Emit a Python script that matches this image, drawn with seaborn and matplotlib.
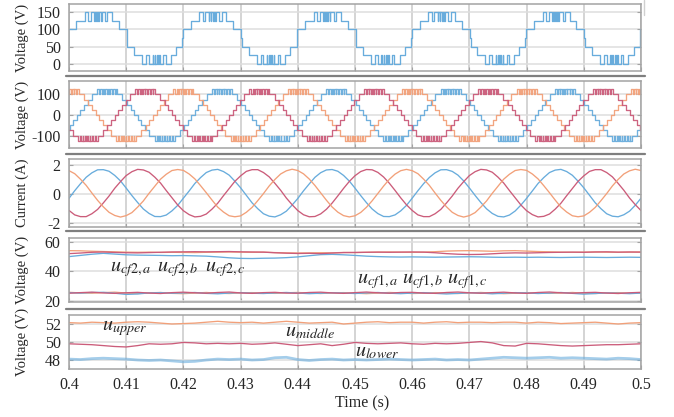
import numpy as np
import pandas as pd
import matplotlib
matplotlib.use("Agg")
import matplotlib.pyplot as plt
from matplotlib.lines import Line2D
import seaborn as sns

# ---------------- data ----------------
X_TICKS = [0.40, 0.41, 0.42, 0.43, 0.44, 0.45, 0.46, 0.47, 0.48, 0.49, 0.50]
X_TICK_LABELS = ["0.4", "0.41", "0.42", "0.43", "0.44", "0.45", "0.46", "0.47", "0.48", "0.49", "0.5"]

# panel 1: stepped phase voltage, one-cycle step pattern (ms from plateau centre)
P1_CENTERS = [0.3851, 0.4051, 0.4251, 0.4451, 0.4651, 0.4851]
P1_OFFS_MS = [-2.3, -1.7, -1.25, -0.65, -0.55, -0.3, -0.2, 0.05, 0.2, 0.45, 0.6, 1.2, 1.6,
              2.4, 3.6, 5.0, 5.1, 6.3, 7.7, 8.4, 8.9, 9.5, 9.6, 9.9, 10.0, 10.3, 10.45,
              10.7, 10.8, 11.4, 11.8, 12.7, 13.6, 14.7, 14.8, 16.2]
P1_LEVELS = [150, 125, 150, 125, 150, 125, 150, 125, 150, 125, 150, 125, 150,
             125, 100, 75, 50, 25, 0, 25, 0, 25, 0, 25, 0, 25, 0,
             25, 0, 25, 0, 25, 50, 75, 100, 125]

# panel 2: stepped line voltages, one-cycle step pattern (ms from positive plateau centre)
LV_CENTERS_BLUE = [0.3867, 0.4067, 0.4267, 0.4467, 0.4667, 0.4867]
LV_CENTERS_RED = [0.3933, 0.4133, 0.4333, 0.4533, 0.4733, 0.4933]
LV_CENTERS_ORANGE = [0.3800, 0.4000, 0.4200, 0.4400, 0.4600, 0.4800, 0.5000]
LV_OFFS_MS = [-1.75, -1.4, -1.2, -0.9, -0.8, -0.5, -0.4, -0.1, 0.05, 0.35, 0.45, 0.8, 0.95, 1.3, 1.45,
              1.75, 2.65, 3.40, 4.07, 4.69, 5.31, 5.93, 6.60, 7.35,
              8.25, 8.6, 8.8, 9.1, 9.2, 9.5, 9.6, 9.9, 10.05, 10.35, 10.45, 10.8, 10.95, 11.3, 11.45,
              11.75, 12.65, 13.40, 14.07, 14.69, 15.31, 15.93, 16.60, 17.35]
LV_LEVELS = [125, 100, 125, 100, 125, 100, 125, 100, 125, 100, 125, 100, 125, 100, 125,
             100, 75, 50, 25, 0, -25, -50, -75, -100,
             -125, -100, -125, -100, -125, -100, -125, -100, -125, -100, -125, -100, -125, -100, -125,
             -100, -75, -50, -25, 0, 25, 50, 75, 100]

# panel 3: phase currents sampled every 1 ms from 0.400 s to 0.500 s
I_TIME = [round(0.400 + 0.001 * k, 3) for k in range(101)]
I_BLUE = [-0.31, 0.22, 0.70, 1.15, 1.46, 1.67, 1.68, 1.57, 1.28, 0.90, 0.40, -0.12, -0.60, -1.05, -1.36, -1.57, -1.58, -1.47, -1.18, -0.80,
          -0.30, 0.20, 0.72, 1.13, 1.48, 1.65, 1.70, 1.55, 1.30, 0.88, 0.42, -0.10, -0.62, -1.03, -1.38, -1.55, -1.60, -1.45, -1.20, -0.78,
          -0.32, 0.21, 0.69, 1.15, 1.47, 1.66, 1.69, 1.57, 1.28, 0.89, 0.40, -0.12, -0.61, -1.05, -1.37, -1.57, -1.58, -1.46, -1.18, -0.80,
          -0.30, 0.22, 0.71, 1.14, 1.46, 1.67, 1.68, 1.56, 1.30, 0.90, 0.41, -0.11, -0.60, -1.04, -1.36, -1.56, -1.60, -1.47, -1.19, -0.78,
          -0.31, 0.20, 0.72, 1.13, 1.48, 1.65, 1.70, 1.55, 1.29, 0.88, 0.42, -0.10, -0.62, -1.03, -1.38, -1.55, -1.59, -1.45, -1.20, -0.79,
          -0.30]
I_RED = [-1.15, -1.46, -1.58, -1.58, -1.38, -1.08, -0.63, -0.15, 0.39, 0.85, 1.27, 1.54, 1.70, 1.66, 1.50, 1.16, 0.75, 0.23, -0.27, -0.77,
         -1.17, -1.44, -1.60, -1.56, -1.40, -1.06, -0.65, -0.13, 0.37, 0.87, 1.25, 1.56, 1.68, 1.68, 1.48, 1.18, 0.73, 0.25, -0.29, -0.75,
         -1.16, -1.45, -1.59, -1.57, -1.39, -1.07, -0.64, -0.14, 0.38, 0.86, 1.26, 1.55, 1.69, 1.67, 1.49, 1.17, 0.74, 0.24, -0.28, -0.76,
         -1.15, -1.46, -1.58, -1.58, -1.38, -1.08, -0.63, -0.15, 0.39, 0.85, 1.27, 1.54, 1.70, 1.66, 1.50, 1.16, 0.75, 0.23, -0.27, -0.77,
         -1.17, -1.44, -1.60, -1.56, -1.40, -1.06, -0.65, -0.13, 0.37, 0.87, 1.25, 1.56, 1.68, 1.68, 1.48, 1.18, 0.73, 0.25, -0.29, -0.75,
         -1.16]
I_ORANGE = [1.61, 1.40, 1.02, 0.59, 0.06, -0.45, -0.90, -1.28, -1.50, -1.61, -1.51, -1.30, -0.92, -0.49, 0.04, 0.53, 1.02, 1.36, 1.62, 1.69,
            1.63, 1.38, 1.04, 0.57, 0.08, -0.43, -0.92, -1.26, -1.52, -1.59, -1.53, -1.28, -0.94, -0.47, 0.02, 0.55, 1.00, 1.38, 1.60, 1.71,
            1.62, 1.39, 1.03, 0.58, 0.07, -0.44, -0.91, -1.27, -1.51, -1.60, -1.52, -1.29, -0.93, -0.48, 0.03, 0.54, 1.01, 1.37, 1.61, 1.70,
            1.61, 1.40, 1.02, 0.59, 0.06, -0.45, -0.90, -1.28, -1.50, -1.61, -1.51, -1.30, -0.92, -0.49, 0.04, 0.53, 1.02, 1.36, 1.62, 1.69,
            1.63, 1.38, 1.04, 0.57, 0.08, -0.43, -0.92, -1.26, -1.52, -1.59, -1.53, -1.28, -0.94, -0.47, 0.02, 0.55, 1.00, 1.38, 1.60, 1.71,
            1.62]

# panels 4 and 5: capacitor voltages sampled every 2 ms
U_TIME = [round(0.400 + 0.002 * k, 3) for k in range(51)]
UCF2_ORANGE = [54.0, 53.9, 53.6, 53.4, 53.2, 53.0, 52.9, 53.0, 52.8, 52.9, 52.8, 52.7, 52.9, 53.0, 53.1, 53.0, 52.9,
               53.0, 52.7, 52.5, 52.4, 52.5, 52.6, 52.5, 52.8, 52.7, 52.9, 53.0, 53.1, 53.0, 52.9, 53.0, 53.3, 53.7,
               53.9, 54.0, 53.8, 53.6, 53.9, 54.0, 53.7, 53.4, 53.2, 53.0, 52.9, 53.0, 53.1, 53.0, 52.9, 53.0, 53.1]
UCF2_RED = [52.0, 52.4, 52.9, 53.1, 52.8, 52.6, 52.5, 52.7, 52.9, 53.1, 53.2, 53.3, 53.2, 53.3, 53.4, 53.2, 53.1,
            53.0, 52.6, 52.3, 52.1, 52.2, 52.0, 52.4, 52.7, 52.8, 52.9, 53.0, 52.9, 53.0, 53.1, 53.0, 52.6, 52.0,
            51.6, 51.4, 51.5, 51.9, 52.3, 52.5, 52.4, 52.6, 52.8, 52.9, 53.0, 52.9, 53.1, 53.2, 53.0, 53.1, 53.0]
UCF2_BLUE = [50.0, 50.8, 51.6, 52.2, 51.7, 51.2, 51.0, 50.9, 50.8, 50.6, 50.7, 50.5, 50.3, 49.8, 49.2, 48.8, 48.7,
             48.9, 49.0, 49.3, 49.8, 50.6, 51.3, 51.5, 51.2, 50.8, 50.3, 50.0, 49.8, 49.7, 49.8, 49.7, 49.6, 49.7,
             49.8, 49.9, 49.8, 49.6, 49.5, 49.6, 49.5, 49.6, 49.5, 49.4, 49.5, 49.6, 49.5, 49.4, 49.5, 49.6, 49.5]
UCF1_ORANGE = [26.0, 25.6, 25.4, 25.8, 26.1, 25.5, 25.2, 25.6, 25.9, 25.3, 25.1, 25.5, 25.9, 25.4, 25.2, 25.6, 25.8,
               25.4, 25.3, 25.7, 25.9, 25.5, 25.2, 25.6, 25.8, 25.4, 25.1, 25.5, 25.9, 25.6, 25.2, 25.4, 25.8, 25.5,
               25.2, 25.6, 25.9, 25.5, 25.1, 25.4, 25.8, 25.6, 25.3, 25.5, 25.9, 25.4, 25.2, 25.6, 25.8, 25.4, 25.5]
UCF1_RED = [25.4, 25.8, 26.1, 25.6, 25.3, 25.7, 26.0, 25.5, 25.2, 25.8, 26.1, 25.7, 25.4, 25.9, 26.2, 25.6, 25.3,
            25.8, 26.0, 25.5, 25.4, 25.9, 26.1, 25.6, 25.3, 25.8, 26.2, 25.7, 25.4, 25.9, 26.0, 25.5, 25.3, 25.9,
            26.2, 25.7, 25.4, 25.8, 26.1, 25.6, 25.3, 25.9, 26.2, 25.7, 25.4, 25.8, 26.0, 25.5, 25.2, 25.7, 26.0]
UCF1_BLUE = [25.8, 25.5, 25.9, 26.0, 25.4, 24.6, 24.9, 25.6, 25.8, 25.4, 25.6, 25.9, 25.3, 25.0, 25.5, 25.8, 25.4,
             25.2, 25.6, 25.9, 25.5, 25.1, 25.4, 25.7, 25.5, 25.2, 25.6, 25.9, 25.4, 25.1, 25.5, 25.8, 25.3, 24.9,
             25.3, 25.7, 25.5, 25.0, 25.4, 25.8, 25.6, 25.2, 25.5, 25.9, 25.3, 24.8, 25.2, 25.6, 25.4, 25.1, 25.5]
U_UPPER = [52.15, 52.1, 52.2, 52.15, 52.1, 52.2, 52.25, 52.2, 52.1, 52.0, 52.05, 52.1, 52.2, 52.3, 52.2, 52.15, 52.2,
           52.1, 52.2, 52.3, 52.2, 52.1, 52.15, 52.2, 52.0, 52.1, 52.2, 52.25, 52.15, 52.2, 52.2, 52.1, 52.2, 52.25,
           52.15, 52.2, 52.2, 52.15, 52.2, 52.2, 52.1, 52.2, 52.15, 52.05, 52.1, 52.15, 52.2, 52.1, 52.0, 52.1, 52.15]
U_MIDDLE = [49.8, 49.75, 49.7, 49.6, 49.5, 49.45, 49.6, 49.8, 49.75, 49.8, 49.95, 49.9, 49.8, 49.85, 49.8, 49.85, 49.75,
            49.8, 49.9, 49.75, 49.6, 49.7, 49.8, 49.6, 49.75, 49.95, 49.85, 49.8, 49.85, 49.9, 49.8, 49.75, 49.85, 49.8,
            49.85, 49.95, 50.05, 49.9, 49.6, 49.55, 49.85, 49.8, 49.7, 49.6, 49.55, 49.6, 49.65, 49.7, 49.7, 49.75, 49.8]
U_LOWER = [48.1, 48.05, 48.15, 48.2, 48.15, 48.1, 48.0, 47.95, 48.0, 47.9, 47.8, 47.85, 48.0, 48.1, 48.05, 48.1, 48.0,
           48.05, 48.25, 48.3, 48.05, 47.95, 48.05, 48.1, 48.0, 48.05, 48.0, 48.05, 48.1, 48.05, 48.0, 48.05, 48.1, 48.0,
           48.05, 48.0, 48.1, 48.2, 48.3, 48.25, 48.2, 48.25, 48.3, 48.2, 48.25, 48.2, 48.15, 48.1, 48.2, 48.15, 48.05]

# ---------------- styling ----------------
BLUE = "#68acdc"
ORANGE = "#f2a079"
RED = "#cb5c7a"

sns.set_style("white")
plt.rcParams["font.family"] = ["Liberation Serif", "DejaVu Serif"]
plt.rcParams["mathtext.fontset"] = "stix"
plt.rcParams["axes.unicode_minus"] = False

W, H = 674, 417
fig = plt.figure(figsize=(W / 100, H / 100), dpi=100)

L, R = 69, 641


def add_ax(top, bottom):
    return fig.add_axes([L / W, 1 - bottom / H, (R - L) / W, (bottom - top) / H])


def steps(centers, offs_ms, levels):
    t, v = [], []
    for c in centers:
        for o, lv in zip(offs_ms, levels):
            t.append(c + o / 1000.0)
            v.append(lv)
    return pd.DataFrame({"t": t, "v": v})


def style(ax, yticks, ylim, ylabel, last=False):
    ax.set_xlim(0.4, 0.5)
    ax.set_ylim(*ylim)
    ax.set_xticks(X_TICKS)
    ax.set_yticks(yticks)
    ax.set_yticklabels([str(y) for y in yticks])
    if last:
        ax.set_xticklabels(X_TICK_LABELS)
    else:
        ax.set_xticklabels([])
    ax.grid(True, axis="x", color="#c9c9c9", lw=1.1)
    ax.grid(True, axis="y", color="#dedede", lw=1.1)
    ax.set_axisbelow(True)
    for sp in ax.spines.values():
        sp.set_color("#a3a3a3")
        sp.set_linewidth(1.1)
    ax.tick_params(axis="both", direction="in", length=3, color="#a3a3a3",
                   labelsize=11.5, pad=6, right=True, left=True, bottom=True)
    ax.set_ylabel(ylabel, fontsize=10.5, va="center")
    ax.yaxis.set_label_coords((22.7 - L) / (R - L), 0.5)
    ax.set_xlabel("")


LW = 0.95

# panel 1
ax1 = add_ax(4, 71)
d1 = steps(P1_CENTERS, P1_OFFS_MS, P1_LEVELS)
sns.lineplot(data=d1, x="t", y="v", ax=ax1, color=BLUE, lw=LW, drawstyle="steps-post",
             estimator=None, sort=False)
style(ax1, [0, 50, 100, 150], (-20, 173), "Voltage (V)")

# panel 2
ax2 = add_ax(81, 148)
for centers, col in [(LV_CENTERS_BLUE, BLUE), (LV_CENTERS_ORANGE, ORANGE), (LV_CENTERS_RED, RED)]:
    d = steps(centers, LV_OFFS_MS, LV_LEVELS)
    sns.lineplot(data=d, x="t", y="v", ax=ax2, color=col, lw=LW, drawstyle="steps-post",
                 estimator=None, sort=False, alpha=0.95)
style(ax2, [-100, 0, 100], (-160, 165), "Voltage (V)")

# panel 3
ax3 = add_ax(159, 227)
d3 = pd.DataFrame({"t": I_TIME, "blue": I_BLUE, "red": I_RED, "orange": I_ORANGE})
for key, col in [("blue", BLUE), ("red", RED), ("orange", ORANGE)]:
    sns.lineplot(data=d3, x="t", y=key, ax=ax3, color=col, lw=LW, estimator=None, sort=False)
style(ax3, [-2, 0, 2], (-2.3, 2.42), "Current (A)")

# panel 4
ax4 = add_ax(238, 302)
d4 = pd.DataFrame({"t": U_TIME, "o2": UCF2_ORANGE, "r2": UCF2_RED, "b2": UCF2_BLUE,
                   "o1": UCF1_ORANGE, "r1": UCF1_RED, "b1": UCF1_BLUE})
for key, col in [("o2", ORANGE), ("b2", BLUE), ("r2", RED), ("o1", ORANGE), ("b1", BLUE), ("r1", RED)]:
    sns.lineplot(data=d4, x="t", y=key, ax=ax4, color=col, lw=LW, estimator=None, sort=False)
style(ax4, [20, 40, 60], (19.5, 62.5), "Voltage (V)")
fs = 14.5
for txt, x in [(r"$u_{cf2,a}$", 0.40717), (r"$u_{cf2,b}$", 0.41538), (r"$u_{cf2,c}$", 0.42378)]:
    ax4.text(x, 40.4, txt, fontsize=fs, ha="left", va="baseline")
for txt, x in [(r"$u_{cf1,a}$", 0.45035), (r"$u_{cf1,b}$", 0.45822), (r"$u_{cf1,c}$", 0.46608)]:
    ax4.text(x, 31.9, txt, fontsize=fs, ha="left", va="baseline")

# panel 5
ax5 = add_ax(315, 369)
d5 = pd.DataFrame({"t": U_TIME, "up": U_UPPER, "mid": U_MIDDLE, "low": U_LOWER})
sns.lineplot(data=d5, x="t", y="up", ax=ax5, color=ORANGE, lw=LW, estimator=None, sort=False)
sns.lineplot(data=d5, x="t", y="mid", ax=ax5, color=RED, lw=LW, estimator=None, sort=False)
sns.lineplot(data=d5, x="t", y="low", ax=ax5, color=BLUE, lw=2.0, alpha=0.6, estimator=None, sort=False)
style(ax5, [48, 50, 52], (47, 53), "Voltage (V)", last=True)
ax5.text(0.40577, 51.3, r"$u_{upper}$", fontsize=fs, ha="left", va="baseline")
ax5.text(0.43776, 50.65, r"$u_{middle}$", fontsize=fs, ha="left", va="baseline")
ax5.text(0.4500, 48.4, r"$u_{lower}$", fontsize=fs, ha="left", va="baseline")
ax5.set_xlabel("Time (s)", fontsize=11.5, va="center")
ax5.xaxis.set_label_coords((361.7 - L) / (R - L), (369 - 403) / (369 - 315))

# separators between panels
for y in [76, 154, 231, 309]:
    fig.add_artist(Line2D([66 / W, 645 / W], [1 - y / H, 1 - y / H], color="#7f7f7f", lw=1.6))
fig.add_artist(Line2D([644 / W, 644 / W], [1, 1 - 15 / H], color="#d0d0d0", lw=1.0))

fig.savefig("out.png", dpi=100)
